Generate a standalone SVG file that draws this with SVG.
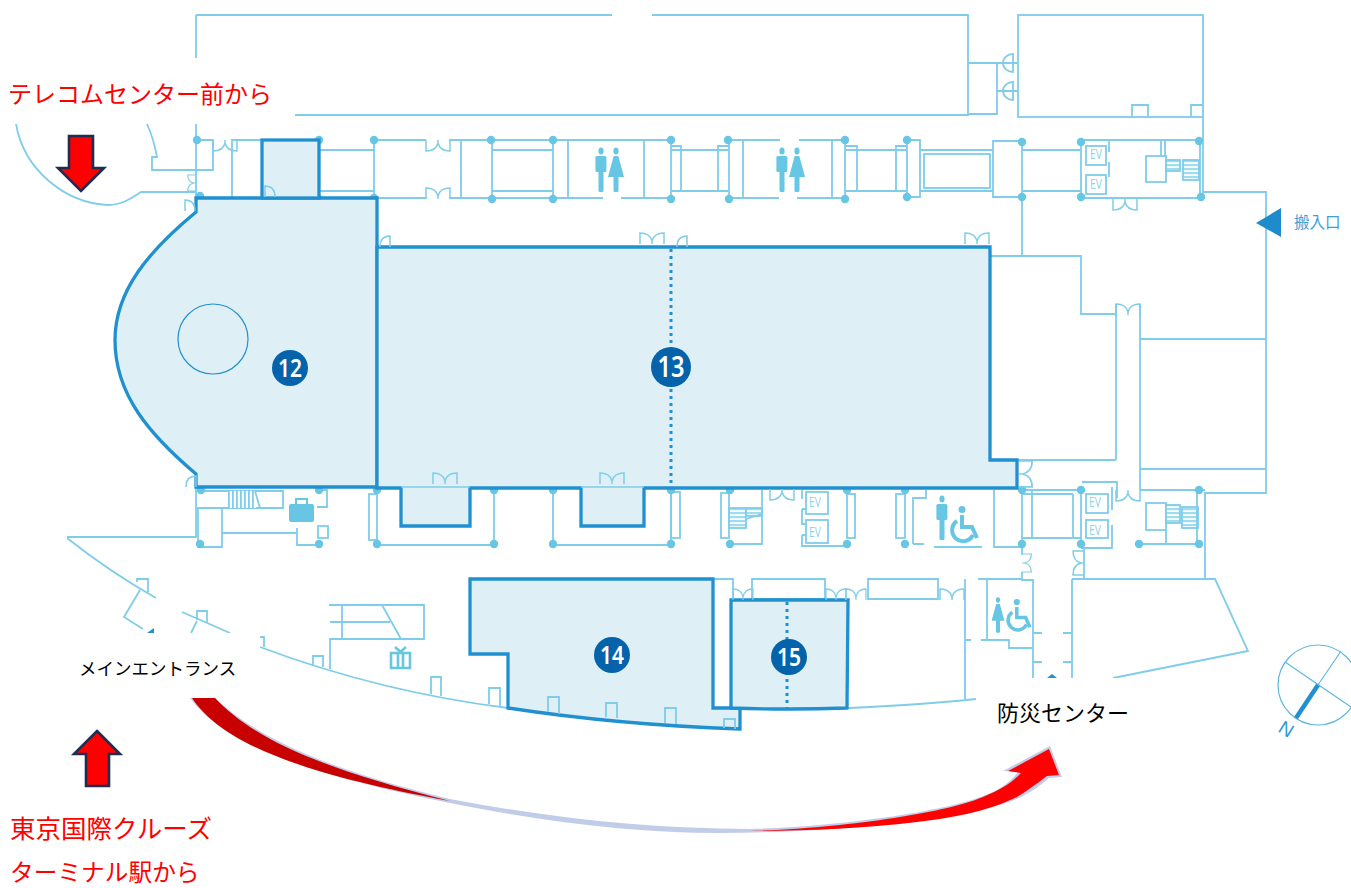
<svg xmlns="http://www.w3.org/2000/svg" width="1351" height="888" viewBox="0 0 1351 888">
<style>
.l{fill:none;stroke:#7fcde9;stroke-width:1.8}
.t{fill:none;stroke:#7fcde9;stroke-width:1.5}
.h{fill:#def0f5;stroke:#2090d0;stroke-width:3.3}
.d{fill:#66c6e3;stroke:none}
.i{fill:#66c6e3;stroke:none}
.dot{fill:none;stroke:#2090d0;stroke-width:3;stroke-dasharray:3 4}
.b{fill:#0563ab}
.bt{fill:#fff;font-family:"Noto Sans",sans-serif;font-weight:600;text-anchor:middle}
.ev{fill:#8ed3ea;font-family:"Open Sans",sans-serif;font-size:14px;text-anchor:middle}
.r{fill:#f00;font-family:"Noto Sans CJK JP",sans-serif}
.k{fill:#000;font-family:"Noto Sans CJK JP",sans-serif}
.a{fill:#f00;stroke:#1f2d50;stroke-width:2.6;stroke-linejoin:miter}
.m{fill:#fff}
</style>
<defs>
<path id="ddh" class="t" d="M0,0V11Q10,11 12,3V0M12,3Q14,11 24,11V0"/>
<path id="ddu" class="t" d="M0,11V0Q10,0 12,8V11M12,8Q14,0 24,0V11"/>
<path id="sd" class="t" d="M0,11Q0,0 10,0V11"/>
<path id="sdl" class="t" d="M10,11Q10,0 0,0V11"/>
<g id="man"><ellipse cx="0" cy="-20" rx="2.6" ry="3.5"/><rect x="-5.600" y="-15" width="11" height="16" rx="1.500"/><rect x="-2.500" y="0" width="5" height="21" rx="1.500"/></g>
<g id="woman"><ellipse cx="0" cy="-20" rx="2.6" ry="3.5"/><path d="M-2.300,-15H2.300L8,6H-8Z"/><rect x="-2.500" y="5" width="5" height="16" rx="1.500"/></g>
<g id="wc"><circle cx="10" cy="3.500" r="3.500" fill="#66c6e3"/><path d="M10,9V21H20L25,32M5,15A11,11 0 1 0 21,29" fill="none" stroke="#66c6e3" stroke-width="4"/></g>
<pattern id="hh" width="4" height="4" patternUnits="userSpaceOnUse"><rect width="4" height="4" fill="#fff"/><rect width="4" height="2.200" fill="#9fdcf0"/></pattern>
<pattern id="hv" width="4" height="4" patternUnits="userSpaceOnUse"><rect width="4" height="4" fill="#fff"/><rect width="1.800" height="4" fill="#7fcde9"/></pattern>
</defs>
<rect width="1351" height="888" fill="#fff"/>

<g id="swoosh">
<path fill="#c0cce8" d="M190,698C225,745 310,775 450,803C550,823 640,833 717,833C850,832 960,820 1017,799C1030,793 1040,786 1049,778L1062,777L1050,746L1003,771L1018,772C1010,782 1000,790 983,796C940,813 830,827 750,829C650,829 550,818 450,799C330,770 260,740 215,698Z"/>
<path fill="#c90000" d="M192,698C220,740 290,772 450,801C320,768 255,740 215,698Z"/>
<path fill="#f00" d="M750,831C830,829 940,815 983,797C1000,790 1012,783 1021,773L1008,771L1049,749L1059,775L1047,776C1035,785 1025,792 1017,797C990,810 960,817 917,822C860,829 800,831 750,831Z"/>
</g>

<g id="walls" class="l">
<path d="M196,15V197M196,15H612M652,15H968V115H295M968,63H997M997,63V114H968M997,63H1018M997,91H1018"/>
<rect x="1018" y="15" width="185" height="102"/>
<path d="M1132,117V105H1148V117M1191,117V105H1203M1203,117V198M1203,192H1266V493H1205V579"/>
<path d="M1013,54A10,9 0 0 0 1013,72ZM1013,82A10,9 0 0 0 1013,100Z"/>
<path d="M16,124C24,170 65,203 108,205C122,205 132,198 141,192H196M147,124C152,135 155,146 157,157H152V170H213V140H197M232,197V140H262"/>
<path d="M319,150H374M319,191H374M374,140V198M374,140H426M449,140H553M374,198H426M449,198H553M461,140V198M492,140V198M492,150H553M492,191H553M553,140V198"/>
<path d="M568,140V198M553,140H671M553,198H603M621,198H671M644,140V198M671,140V198M671,146H681V191M671,150H728M671,191H728M718,191V146H729M729,140V198M743,140V198M729,140H780M799,140H845M729,198H779M797,198H845M832,140V198M845,140V198M845,146H857V191M845,150H907M845,191H907M896,191V146H907"/>
<path d="M907,140H920V197H907ZM920,150H993M920,191H993M993,141H1022V197H993ZM1022,150H1081M1022,191H1081M1022,197V256M990,256H1081V314H1116M1081,140H1200V198H1083M1081,140V198"/>
<rect x="924" y="154" width="66" height="34"/>
<rect x="1086" y="146" width="20" height="19"/><rect x="1086" y="175" width="20" height="19"/>
<path d="M1109,141V152M1109,162V177"/>
<rect x="1146" y="156" width="20" height="26"/>
<path d="M1161,140V156M1165,140V156"/>
<rect x="1166" y="160" width="14" height="11" fill="url(#hh)"/>
<rect x="1183" y="160" width="16" height="20" fill="url(#hh)"/>
<path d="M1116,304V460M1140,304V490M1140,339H1266M1140,469H1266M1017,460H1116M1140,490H1199M1082,482H1117V498"/>
<path d="M1022,490H1081V546M1022,490V547H994V490M1032,490V538M1073,494V538M1022,538H1081M1022,494H1073"/>
<rect x="1086" y="494" width="22" height="19"/><rect x="1086" y="520" width="22" height="18"/>
<path d="M1112,487V510M1112,525V548H1081"/>
<rect x="1146" y="503" width="20" height="27"/>
<rect x="1166" y="505" width="14" height="18" fill="url(#hh)"/>
<rect x="1182" y="507" width="16" height="21" fill="url(#hh)"/>
<path d="M1166,530V544M1197,490V544M1139,544H1199M1197,490H1205"/>
<path d="M913,544H924M913,544V498H926V490M934,547H982"/>
<path d="M1022,547V555M1022,572V580H1033V678M1084,547V579M1072,579H1215L1248,651L1113,678M1072,579V678M987,579H1022M987,579V640H1009V648H1033M978,579H987M965,579V699M966,640H971M981,640H987M1033,633H1042M1063,633H1072M1033,662H1042M1063,662H1072"/>
<path d="M868,579H938V599H868ZM752,579H825V599H752ZM713,579H733V600"/>
<path d="M196,487V537H67M67,538Q110,572 156,598M137,582V579H148V592M140,590L124,617L143,629M182,612L230,633M197,620V611H207V622M197,621L191,633"/>
<path d="M198,508H222V547H198ZM196,491H283V508H197M222,533H297V528M297,533V545H319M319,490H327V507H317"/>
<rect x="228" y="491" width="28" height="17" fill="url(#hv)" stroke="none"/>
<path d="M255,491L260,508"/>
<rect x="318" y="526" width="10" height="12"/>
<rect x="369" y="494" width="8" height="46"/>
<path d="M377,545H494V490M553,490V545H671V490"/>
<rect x="671" y="492" width="9" height="46"/>
<rect x="721" y="493" width="8" height="45"/>
<rect x="729" y="508" width="17" height="20" fill="url(#hh)"/>
<rect x="746" y="508" width="16" height="8" fill="url(#hh)"/>
<path d="M746,519L762,514M762,490V544H729"/>
<path d="M802,490V499M802,509V524H806M802,509H806M802,535V546H847M802,535H806"/>
<rect x="806" y="492" width="22" height="22"/><rect x="806" y="520" width="22" height="23"/>
<rect x="847" y="494" width="8" height="44"/><rect x="896" y="494" width="9" height="44"/>
<path d="M260,647Q380,692 508,708M848,708Q920,705 976,699M260,637H264V647"/>
<path d="M329,605H424V639H330V669M342,605V639M330,622H390M382,605L401,639"/>
<path d="M313,666V656H323V667M431,694V677H441V696M489,704V688H500V706"/>
</g>

<g id="dots">
<g class="d">
<circle cx="197" cy="140" r="4.200"/><circle cx="319" cy="140" r="4.200"/><circle cx="374" cy="140" r="4.200"/><circle cx="491" cy="140" r="4.200"/><circle cx="553" cy="140" r="4.200"/><circle cx="671" cy="140" r="4.200"/><circle cx="728" cy="140" r="4.200"/><circle cx="845" cy="140" r="4.200"/><circle cx="907" cy="140" r="4.200"/><circle cx="1022" cy="142" r="4.200"/><circle cx="1081" cy="142" r="4.200"/><circle cx="1199" cy="141" r="4.200"/>
<circle cx="200" cy="196" r="4.200"/><circle cx="319" cy="199" r="4.200"/><circle cx="374" cy="198" r="4.200"/><circle cx="492" cy="199" r="4.200"/><circle cx="553" cy="199" r="4.200"/><circle cx="671" cy="199" r="4.200"/><circle cx="729" cy="199" r="4.200"/><circle cx="845" cy="199" r="4.200"/><circle cx="907" cy="197" r="4.200"/><circle cx="1022" cy="197" r="4.200"/><circle cx="1081" cy="197" r="4.200"/><circle cx="1201" cy="197" r="4.200"/>
<circle cx="201" cy="490" r="4.200"/><circle cx="319" cy="490" r="4.200"/><circle cx="377" cy="490" r="4.200"/><circle cx="494" cy="490" r="4.200"/><circle cx="553" cy="490" r="4.200"/><circle cx="671" cy="490" r="4.200"/><circle cx="730" cy="490" r="4.200"/><circle cx="847" cy="490" r="4.200"/><circle cx="905" cy="490" r="4.200"/><circle cx="1022" cy="490" r="4.200"/><circle cx="1081" cy="490" r="4.200"/><circle cx="1199" cy="490" r="4.200"/>
<circle cx="200" cy="544" r="4.200"/><circle cx="319" cy="544" r="4.200"/><circle cx="377" cy="544" r="4.200"/><circle cx="494" cy="544" r="4.200"/><circle cx="553" cy="544" r="4.200"/><circle cx="671" cy="544" r="4.200"/><circle cx="730" cy="544" r="4.200"/><circle cx="847" cy="544" r="4.200"/><circle cx="905" cy="544" r="4.200"/><circle cx="1022" cy="544" r="4.200"/><circle cx="1081" cy="544" r="4.200"/><circle cx="1139" cy="544" r="4.200"/><circle cx="1199" cy="544" r="4.200"/>
</g>
</g>

<g id="masks">
<rect class="m" x="0" y="58" width="295" height="66"/>
<rect class="m" x="0" y="633" width="260" height="65"/>
<rect class="m" x="976" y="678" width="230" height="62"/>
</g>
<path fill="#2090d0" d="M147,633L154,628V633Z"/>
<path fill="#2090d0" d="M1047,678L1052,674L1057,678Z"/>

<g id="hall-12"><path class="h" d="M196,198H377V487H196V474C150,435 115,395 115,340C115,290 150,250 196,212Z"/>
<circle cx="213" cy="339" r="35" fill="none" stroke="#2090d0" stroke-width="1.200"/></g>
<g id="hall-12b"><rect class="h" x="262" y="140" width="57" height="58"/></g>
<g id="hall-13"><path class="h" d="M377,247H990V460H1017V488H644V526H581V488H470V526H401V488H377Z"/></g>
<g id="hall-14"><path class="h" d="M470,579H713V708H740V729Q620,725 508,708V654H470Z"/></g>
<g id="hall-15"><path class="h" d="M731,600H848L847,708Q790,710 731,708Z"/></g>

<g id="details">
<path class="t" d="M401,487H470M581,487H644"/>
<use href="#ddh" x="213" y="140"/><use href="#ddh" x="426" y="140"/><use href="#ddu" x="426" y="188"/>
<use href="#ddu" x="640" y="233"/><use href="#sd" x="677" y="236"/><use href="#ddu" x="965" y="233"/><use href="#sd" x="380" y="236"/>
<use href="#ddu" x="433" y="473"/><use href="#ddu" x="600" y="473"/><use href="#sdl" x="265" y="186"/>
<use href="#ddh" x="1113" y="199"/><use href="#ddh" x="770" y="489"/><use href="#ddh" x="1116" y="490"/>
<use href="#ddu" transform="translate(733,589) scale(.83,1)"/>
<use href="#ddu" transform="translate(826,589) scale(.83,1)"/>
<use href="#ddu" transform="translate(846,589) scale(.83,1)"/>
<use href="#ddu" x="940" y="589"/>
<use href="#ddu" transform="translate(1116,304)"/>
<use href="#ddh" transform="matrix(0,.67,-.75,0,196,175)"/>
<use href="#sd" transform="matrix(-1,0,0,1,195,200)"/>
<use href="#sd" transform="translate(186,476)"/>
<use href="#ddh" transform="matrix(0,1.08,1.2,0,1019,461)"/>
<use href="#ddh" transform="matrix(0,.75,.85,0,1022,554)"/>
<use href="#ddh" transform="matrix(0,1,-1,0,1084,551)"/>
<g class="l"><path d="M548,712V697H559V714M606,717V703H617V718M665,723V708H676V724M724,728V719H735V729"/></g>
<path class="dot" d="M671,249V488M787,602V710"/>
<text class="ev" x="1096" y="159" textLength="12" lengthAdjust="spacingAndGlyphs">EV</text><text class="ev" x="1096" y="189" textLength="12" lengthAdjust="spacingAndGlyphs">EV</text>
<text class="ev" x="1095" y="507" textLength="12" lengthAdjust="spacingAndGlyphs">EV</text><text class="ev" x="1095" y="535" textLength="12" lengthAdjust="spacingAndGlyphs">EV</text>
<text class="ev" x="815" y="507" textLength="12" lengthAdjust="spacingAndGlyphs">EV</text><text class="ev" x="815" y="537" textLength="12" lengthAdjust="spacingAndGlyphs">EV</text>
<g class="i"><use href="#man" x="601" y="171"/><use href="#woman" x="616" y="171"/><use href="#man" x="782" y="171"/><use href="#woman" x="797" y="171"/>
<use href="#man" x="942" y="519"/><use href="#woman" transform="translate(998,616) scale(.8)"/>
<rect x="289" y="504" width="25" height="18" rx="2"/></g>
<path d="M296,504V499H307V504" fill="none" stroke="#66c6e3" stroke-width="2"/>
<use href="#wc" x="952" y="506"/>
<use href="#wc" transform="translate(1008,599) scale(.88)"/>
<path fill="none" stroke="#66c6e3" stroke-width="2.600" d="M391,653H410V668H391ZM398,653V668M403,653V668M395,647L400.500,652L406,647"/>
</g>

<g id="badges">
<g id="b12"><circle class="b" cx="290" cy="368" r="18"/><text class="bt" x="290" y="377" font-size="25" textLength="24" lengthAdjust="spacingAndGlyphs">12</text></g>
<g id="b13"><circle class="b" cx="671" cy="367" r="20"/><text class="bt" x="671" y="377" font-size="28" textLength="27" lengthAdjust="spacingAndGlyphs">13</text></g>
<g id="b14"><circle class="b" cx="612" cy="655" r="18"/><text class="bt" x="612" y="664" font-size="25" textLength="24" lengthAdjust="spacingAndGlyphs">14</text></g>
<g id="b15"><circle class="b" cx="789" cy="657" r="18"/><text class="bt" x="789" y="666" font-size="25" textLength="24" lengthAdjust="spacingAndGlyphs">15</text></g>
</g>

<g id="compass">
<circle cx="1318" cy="685" r="40" fill="none" stroke="#5fb8e0" stroke-width="1.200"/>
<path d="M1285,662L1351,707M1341,651L1318,685" fill="none" stroke="#5fb8e0" stroke-width="1.200"/>
<path d="M1318,685L1296,718" stroke="#2090d0" stroke-width="4.500"/>
<text transform="translate(1277,731) rotate(32)" font-family="Liberation Sans,sans-serif" font-size="19" fill="#2f9ad6">N</text>
</g>

<g id="loading"><path fill="#1e8bcd" d="M1256,223L1281,208V237Z"/><text x="1294" y="228" font-family="Noto Sans CJK JP,sans-serif" font-size="15.500" fill="#3a9fd8">搬入口</text></g>
<g id="arrows">
<path class="a" d="M69,136H93V168H104L81,191L58,168H69Z"/>
<path class="a" d="M97,731L120,754H109V786H86V754H74Z"/>
</g>
<g id="labels">
<text class="r" x="8" y="103" font-size="24">テレコムセンター前から</text>
<text class="r" x="10" y="838" font-size="25.500">東京国際クルーズ</text>
<text class="r" x="10" y="881" font-size="23.700">ターミナル駅から</text>
<text class="k" x="79" y="675" font-size="17.500">メインエントランス</text>
<text class="k" x="997" y="721" font-size="22">防災センター</text>
</g>
</svg>
